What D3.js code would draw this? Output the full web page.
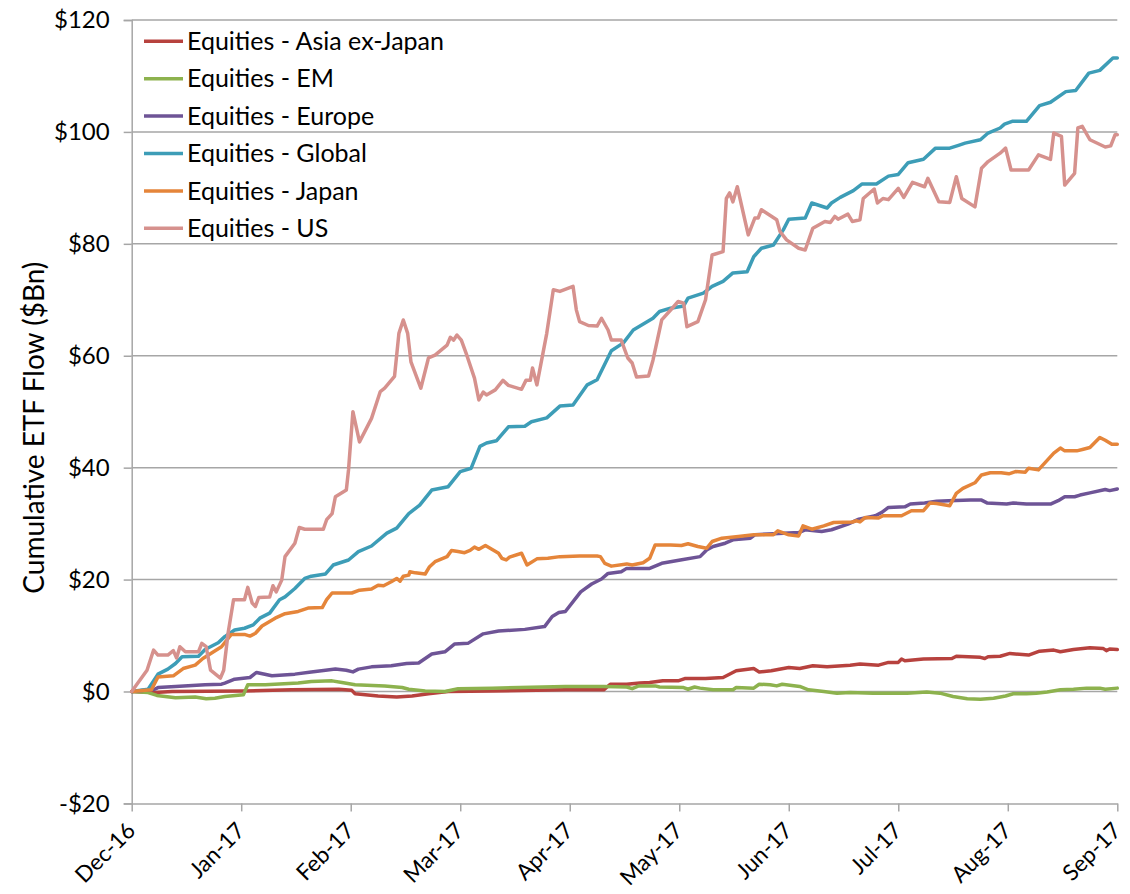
<!DOCTYPE html>
<html>
<head>
<meta charset="utf-8">
<script src="https://cdn.jsdelivr.net/npm/d3@7"></script>
<style>
  html, body { margin: 0; padding: 0; background: #fff; }
  svg { display: block; font-family: Lato, "Open Sans", sans-serif; }
</style>
</head>
<body>
<svg id="chart" width="1130" height="894"></svg>
<script>
// Month tick labels; t values below are months elapsed since the start of Dec-16.
const monthLabels = ["Dec-16", "Jan-17", "Feb-17", "Mar-17", "Apr-17", "May-17", "Jun-17", "Jul-17", "Aug-17", "Sep-17"];
const yTickValues = [-20, 0, 20, 40, 60, 80, 100, 120];
const seriesNames = ["Equities - Asia ex-Japan", "Equities - EM", "Equities - Europe", "Equities - Global", "Equities - Japan", "Equities - US"];

// Cumulative ETF flow, $Bn: [t, value]
const asiaExJapan = [
  [0,0],[0.21,-0.2],[0.37,0.0],[1.03,0.1],[1.46,0.3],[1.89,0.4],[2.01,0.2],[2.04,-0.4],[2.25,-0.8],
  [2.42,-1.0],[2.56,-0.8],[2.71,-0.4],[2.89,0.0],[3.29,0.1],[3.96,0.3],[4.31,0.3],[4.37,1.3],[4.52,1.3],
  [4.64,1.5],[4.73,1.6],[4.85,1.9],[4.99,1.9],[5.05,2.3],[5.24,2.3],[5.40,2.5],[5.52,3.7],[5.68,4.1],
  [5.73,3.5],[5.84,3.7],[6.00,4.3],[6.10,4.1],[6.22,4.6],[6.35,4.4],[6.56,4.7],[6.65,4.9],[6.82,4.7],
  [6.91,5.2],[7.00,5.2],[7.03,5.8],[7.06,5.5],[7.23,5.8],[7.49,5.9],[7.53,6.3],[7.75,6.1],[7.79,5.9],
  [7.82,6.2],[7.93,6.3],[8.02,6.8],[8.19,6.5],[8.29,7.2],[8.42,7.4],[8.48,7.1],[8.60,7.5],[8.75,7.8],
  [8.87,7.7],[8.90,7.3],[8.93,7.6],[9.00,7.5]
];
const em = [
  [0,0],[0.15,-0.2],[0.23,-0.7],[0.40,-1.1],[0.58,-1.0],[0.68,-1.3],[0.76,-1.2],[0.85,-0.9],[1.02,-0.6],
  [1.06,1.2],[1.22,1.2],[1.52,1.5],[1.64,1.8],[1.83,1.9],[1.92,1.6],[2.04,1.2],[2.31,1.0],[2.47,0.7],
  [2.53,0.4],[2.68,0.1],[2.86,0.0],[2.98,0.5],[3.29,0.6],[3.96,0.9],[4.31,0.9],[4.52,0.8],[4.57,0.5],
  [4.63,1.0],[4.78,1.0],[4.82,0.8],[5.04,0.7],[5.08,0.4],[5.14,0.8],[5.19,0.6],[5.31,0.3],[5.49,0.3],
  [5.52,0.7],[5.68,0.6],[5.73,1.3],[5.83,1.2],[5.89,1.0],[5.94,1.3],[6.10,0.9],[6.18,0.3],[6.32,0.0],
  [6.44,-0.3],[6.56,-0.2],[6.77,-0.3],[7.08,-0.3],[7.26,-0.1],[7.38,-0.3],[7.50,-0.9],[7.63,-1.3],
  [7.75,-1.4],[7.87,-1.2],[7.98,-0.8],[8.05,-0.4],[8.17,-0.4],[8.26,-0.3],[8.36,-0.1],[8.48,0.3],
  [8.60,0.4],[8.72,0.6],[8.84,0.6],[8.89,0.4],[9.00,0.6]
];
const europe = [
  [0,0],[0.21,0.4],[0.24,0.7],[0.40,0.9],[0.67,1.2],[0.82,1.3],[0.85,1.5],[0.94,2.2],[1.08,2.5],
  [1.14,3.4],[1.28,2.8],[1.49,3.1],[1.64,3.5],[1.77,3.8],[1.86,4.0],[1.96,3.8],[2.02,3.5],[2.07,4.0],
  [2.19,4.4],[2.37,4.6],[2.51,5.0],[2.62,5.1],[2.74,6.7],[2.86,7.1],[2.95,8.5],[3.07,8.6],[3.21,10.3],
  [3.35,10.8],[3.59,11.1],[3.77,11.6],[3.84,13.4],[3.90,14.1],[3.96,14.3],[4.10,17.8],[4.20,19.2],
  [4.29,20.1],[4.35,21.1],[4.47,21.4],[4.52,22.0],[4.73,22.0],[4.84,22.9],[5.01,23.5],[5.19,24.1],
  [5.25,25.3],[5.31,25.9],[5.42,26.5],[5.49,27.1],[5.65,27.4],[5.69,28.0],[5.86,28.2],[6.09,28.4],
  [6.15,28.9],[6.30,28.6],[6.39,28.9],[6.54,29.9],[6.64,30.8],[6.79,31.4],[6.85,32.0],[6.91,32.9],
  [7.06,33.0],[7.11,33.5],[7.24,33.7],[7.35,34.0],[7.46,34.1],[7.66,34.2],[7.76,34.2],[7.81,33.7],
  [7.99,33.5],[8.05,33.7],[8.17,33.5],[8.39,33.5],[8.46,34.1],[8.52,34.8],[8.61,34.8],[8.66,35.1],
  [8.75,35.5],[8.89,36.1],[8.93,35.9],[9.00,36.2]
];
const global = [
  [0,0],[0.15,0.4],[0.24,3.1],[0.33,4.0],[0.40,5.0],[0.46,6.2],[0.61,6.3],[0.67,7.5],[0.79,8.7],
  [0.85,9.8],[0.94,11.0],[1.03,11.3],[1.11,11.9],[1.17,13.1],[1.26,14.0],[1.35,16.4],[1.40,16.9],
  [1.49,18.4],[1.58,20.2],[1.64,20.6],[1.77,21.0],[1.84,22.6],[1.98,23.5],[2.07,25.0],[2.19,26.0],
  [2.33,28.3],[2.42,29.2],[2.53,31.8],[2.63,33.3],[2.74,36.0],[2.89,36.6],[3.00,39.3],[3.10,39.9],
  [3.18,43.8],[3.24,44.4],[3.33,44.8],[3.44,47.3],[3.59,47.4],[3.65,48.2],[3.79,48.9],[3.91,51.0],
  [4.03,51.2],[4.16,54.8],[4.25,55.7],[4.38,60.9],[4.49,62.3],[4.58,64.6],[4.76,66.7],[4.82,67.9],
  [4.92,68.5],[5.04,68.9],[5.08,70.3],[5.22,71.2],[5.30,72.4],[5.40,73.3],[5.49,74.8],[5.62,75.0],
  [5.68,77.7],[5.75,79.2],[5.86,79.8],[5.95,82.5],[6.00,84.4],[6.15,84.6],[6.21,87.3],[6.35,86.4],
  [6.39,87.3],[6.47,88.3],[6.59,89.5],[6.67,90.7],[6.80,90.7],[6.91,92.1],[7.00,92.4],[7.09,94.5],
  [7.23,95.1],[7.34,97.1],[7.47,97.1],[7.55,97.6],[7.61,98.0],[7.75,98.6],[7.82,99.8],[7.93,100.7],
  [7.97,101.4],[8.04,101.9],[8.17,101.9],[8.29,104.7],[8.39,105.3],[8.53,107.2],[8.62,107.4],
  [8.74,110.5],[8.84,111.0],[8.96,113.2],[9.00,113.2]
];
const japan = [
  [0,0],[0.18,0.3],[0.24,2.6],[0.38,2.8],[0.47,4.1],[0.58,4.7],[0.65,5.9],[0.82,8.0],[0.91,10.2],
  [1.03,10.2],[1.08,9.9],[1.13,10.4],[1.19,11.7],[1.31,13.1],[1.40,13.9],[1.52,14.3],[1.61,14.9],
  [1.74,15.0],[1.78,16.4],[1.83,17.6],[2.01,17.6],[2.08,18.1],[2.19,18.3],[2.25,19.0],[2.30,18.9],
  [2.37,19.6],[2.42,20.2],[2.45,19.7],[2.48,20.6],[2.53,20.8],[2.54,21.4],[2.59,21.2],[2.68,21.0],
  [2.72,22.3],[2.77,23.2],[2.88,24.1],[2.92,25.2],[2.98,25.0],[3.04,24.8],[3.09,25.2],[3.13,25.8],
  [3.17,25.4],[3.23,26.1],[3.30,25.3],[3.35,24.7],[3.38,23.8],[3.42,23.5],[3.45,24.0],[3.56,24.7],
  [3.61,22.6],[3.70,23.7],[3.80,23.8],[3.91,24.1],[4.09,24.2],[4.25,24.2],[4.28,24.1],[4.32,22.9],
  [4.38,22.4],[4.52,22.8],[4.57,22.6],[4.67,23.0],[4.73,23.8],[4.78,26.2],[4.92,26.2],[5.02,26.1],
  [5.08,26.4],[5.17,25.9],[5.25,25.6],[5.30,26.8],[5.39,27.4],[5.54,27.7],[5.68,28.0],[5.86,28.0],
  [5.90,28.7],[6.00,28.0],[6.09,27.8],[6.13,29.6],[6.21,29.0],[6.32,29.6],[6.41,30.2],[6.58,30.3],
  [6.62,30.5],[6.65,30.3],[6.70,31.1],[6.82,31.0],[6.86,31.4],[7.03,31.4],[7.12,32.3],[7.23,32.3],
  [7.29,33.7],[7.35,33.6],[7.47,33.2],[7.53,35.4],[7.59,36.3],[7.70,37.3],[7.76,38.7],[7.84,39.1],
  [7.94,39.1],[8.01,38.9],[8.07,39.3],[8.16,39.2],[8.19,39.9],[8.28,39.6],[8.42,42.6],[8.48,43.5],
  [8.52,43.0],[8.63,43.0],[8.69,43.3],[8.75,43.6],[8.84,45.4],[8.89,44.9],[8.95,44.2],[9.00,44.2]
];
const us = [
  [0,0],[0.14,3.8],[0.20,7.4],[0.24,6.5],[0.33,6.5],[0.38,7.3],[0.41,6.0],[0.44,8.0],[0.49,7.1],
  [0.61,7.1],[0.64,8.6],[0.68,8.0],[0.72,3.8],[0.81,2.4],[0.84,3.8],[0.88,10.4],[0.93,16.4],[1.03,16.4],
  [1.06,18.6],[1.10,15.8],[1.13,15.2],[1.16,16.8],[1.26,16.9],[1.29,18.9],[1.32,17.8],[1.37,19.9],
  [1.40,24.1],[1.49,26.5],[1.53,29.3],[1.58,29.0],[1.75,29.0],[1.78,30.7],[1.83,31.8],[1.86,34.8],
  [1.96,36.0],[1.98,39.6],[2.02,50.0],[2.08,44.6],[2.19,48.8],[2.27,53.6],[2.31,54.2],[2.40,56.3],
  [2.44,64.0],[2.48,66.4],[2.52,64.0],[2.55,58.9],[2.64,54.2],[2.71,59.6],[2.77,60.1],[2.88,61.9],
  [2.91,63.3],[2.94,62.8],[2.97,63.7],[3.01,62.8],[3.06,60.1],[3.13,56.0],[3.17,52.1],[3.21,53.5],
  [3.24,53.0],[3.32,53.9],[3.39,55.6],[3.44,54.7],[3.56,54.0],[3.60,55.6],[3.64,55.6],[3.66,57.8],
  [3.70,54.8],[3.79,64.0],[3.85,71.8],[3.91,71.5],[4.03,72.4],[4.06,68.2],[4.09,66.1],[4.17,65.4],
  [4.25,65.3],[4.29,66.7],[4.35,64.6],[4.38,62.8],[4.47,62.8],[4.53,59.6],[4.57,58.7],[4.61,56.2],
  [4.72,56.4],[4.76,59.2],[4.84,66.4],[4.95,68.8],[4.99,69.7],[5.04,69.4],[5.07,65.2],[5.17,66.1],
  [5.24,70.0],[5.30,78.0],[5.40,78.6],[5.43,88.1],[5.46,89.1],[5.49,87.5],[5.53,90.2],[5.63,81.6],
  [5.69,84.6],[5.72,84.6],[5.75,86.1],[5.89,84.3],[5.92,82.2],[5.98,80.7],[6.09,79.2],[6.15,78.9],
  [6.22,82.8],[6.33,84.0],[6.38,83.8],[6.42,84.9],[6.45,84.4],[6.54,85.3],[6.58,84.0],[6.65,84.3],
  [6.68,88.1],[6.78,89.8],[6.81,87.3],[6.86,88.1],[6.91,87.9],[7.00,89.9],[7.05,88.3],[7.13,91.0],
  [7.24,90.2],[7.27,91.7],[7.37,87.5],[7.47,87.4],[7.53,92.0],[7.58,88.1],[7.70,86.6],[7.76,93.5],
  [7.82,94.7],[7.93,96.2],[7.98,97.1],[8.03,93.2],[8.19,93.2],[8.28,95.9],[8.39,95.1],[8.42,99.8],
  [8.49,99.2],[8.52,90.5],[8.61,92.6],[8.64,100.7],[8.68,101.0],[8.75,98.6],[8.89,97.3],[8.94,97.5],
  [8.98,99.5],[9.00,99.5]
];

const seriesData = [asiaExJapan, em, europe, global, japan, us];
const seriesColors = ["#b7423e", "#8db24e", "#6e5496", "#3d9db7", "#e5853a", "#d6918d"];

const svg = d3.select("#chart");
const plot = { left: 131.7, right: 1117.3, top: 20, bottom: 803.4 };

const x = d3.scaleLinear().domain([0, monthLabels.length - 1]).range([plot.left, plot.right]);
const y = d3.scaleLinear().domain([-20, 120]).range([plot.bottom, plot.top]);

const gridColor = "#a6a6a6";
const fmt = v => (v < 0 ? "-$" : "$") + Math.abs(v);

// Horizontal gridlines
svg.append("g")
  .selectAll("line")
  .data(yTickValues.filter(v => v > -20))
  .join("line")
  .attr("x1", plot.left).attr("x2", plot.right)
  .attr("y1", d => y(d)).attr("y2", d => y(d))
  .attr("stroke", gridColor).attr("stroke-width", 1.5);

// Y axis
const yAxis = svg.append("g")
  .attr("transform", `translate(${plot.left},0)`)
  .call(d3.axisLeft(y).tickValues(yTickValues).tickFormat(fmt).tickSize(8).tickPadding(14));
yAxis.select(".domain").attr("stroke", gridColor).attr("stroke-width", 1.5);
yAxis.selectAll(".tick line").attr("stroke", gridColor).attr("stroke-width", 1.5);
yAxis.selectAll(".tick text")
  .attr("font-family", "Lato, sans-serif")
  .attr("font-size", 24)
  .attr("fill", "#000");

// X axis
const xAxis = svg.append("g")
  .attr("transform", `translate(0,${plot.bottom})`)
  .call(d3.axisBottom(x).tickValues(d3.range(monthLabels.length)).tickFormat(i => monthLabels[i]).tickSize(8).tickSizeOuter(0));
xAxis.select(".domain").attr("stroke", gridColor).attr("stroke-width", 1.5);
xAxis.selectAll(".tick line").attr("stroke", gridColor).attr("stroke-width", 1.5);
xAxis.selectAll(".tick text")
  .attr("font-family", "Lato, sans-serif")
  .attr("font-size", 22.5)
  .attr("fill", "#000")
  .attr("text-anchor", "end")
  .attr("dy", "0.35em")
  .attr("y", 0)
  .attr("transform", "translate(-1,23) rotate(-45)");

// Y axis title
svg.append("text")
  .attr("transform", `translate(44,${(plot.top + plot.bottom) / 2 + 16}) rotate(-90)`)
  .attr("text-anchor", "middle")
  .attr("font-family", "Lato, sans-serif")
  .attr("font-size", 28)
  .attr("fill", "#000")
  .text("Cumulative ETF Flow ($Bn)");

// Series lines
const line = d3.line().x(d => x(d[0])).y(d => y(d[1]));
svg.append("g")
  .selectAll("path")
  .data(seriesData)
  .join("path")
  .attr("d", line)
  .attr("fill", "none")
  .attr("stroke", (d, i) => seriesColors[i])
  .attr("stroke-width", 3.5)
  .attr("stroke-linejoin", "round")
  .attr("stroke-linecap", "round");

// Legend
const legend = svg.append("g").attr("transform", "translate(144,41.3)");
const rows = legend.selectAll("g")
  .data(seriesNames)
  .join("g")
  .attr("transform", (d, i) => `translate(0,${i * 37.4})`);
rows.append("line")
  .attr("x1", 0).attr("x2", 39)
  .attr("stroke", (d, i) => seriesColors[i])
  .attr("stroke-width", 3.5);
rows.append("text")
  .attr("x", 43)
  .attr("dy", "0.35em")
  .attr("font-family", "Lato, sans-serif")
  .attr("font-size", 25)
  .attr("fill", "#000")
  .text(d => d);
</script>
</body>
</html>
